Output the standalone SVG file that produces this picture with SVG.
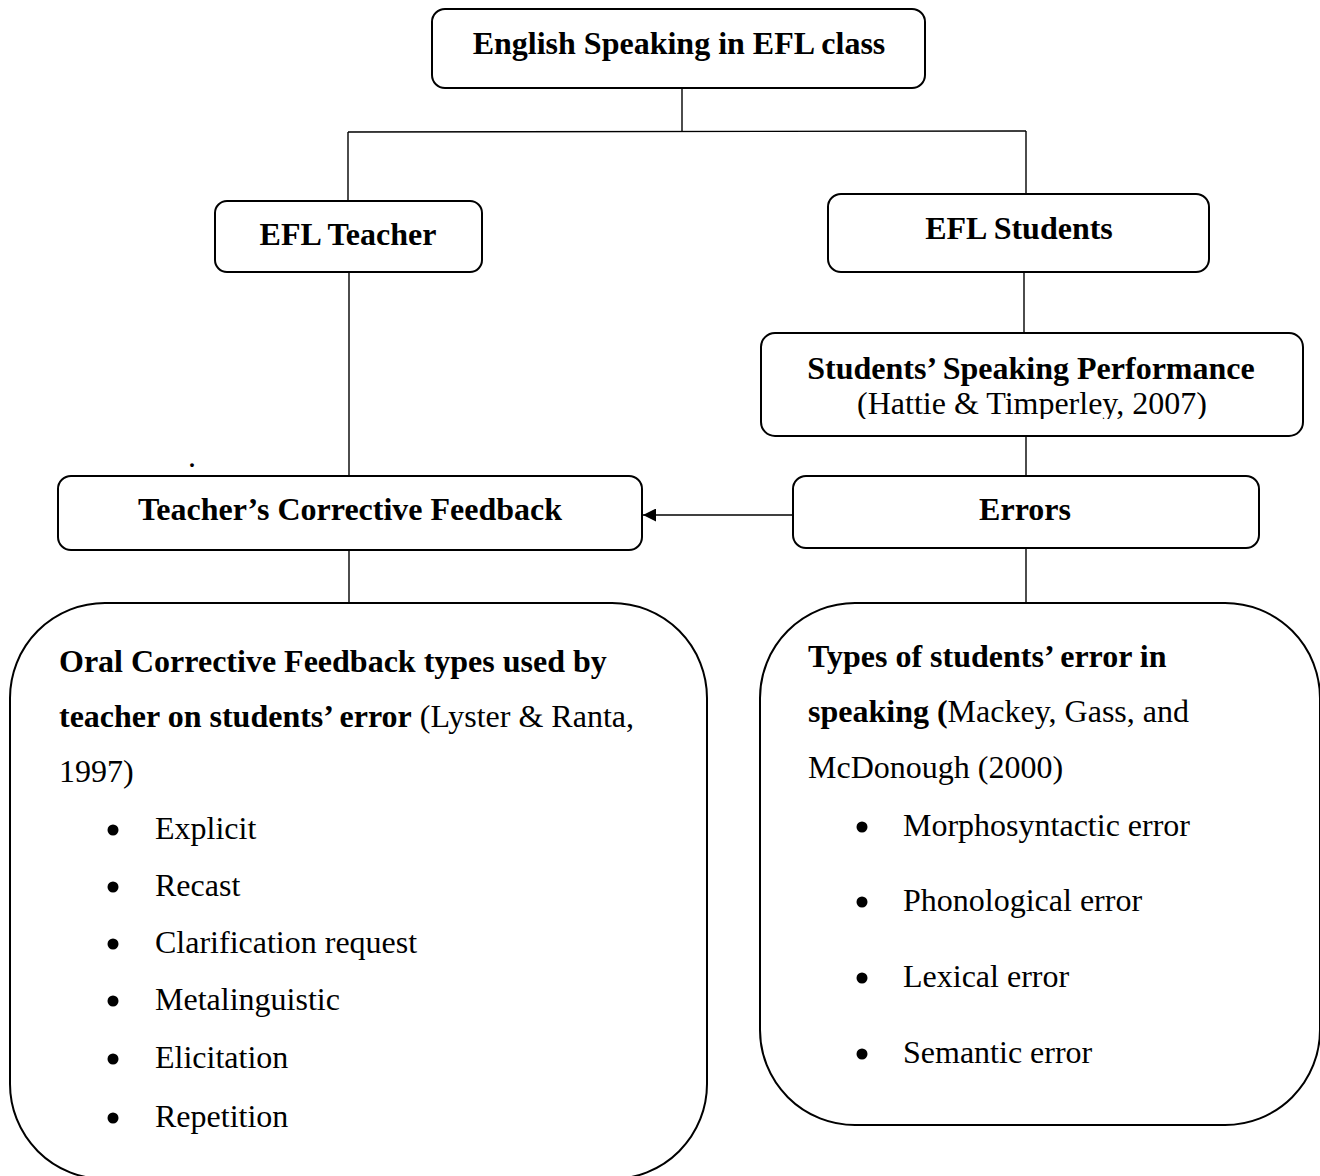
<svg xmlns="http://www.w3.org/2000/svg" width="1320" height="1176" viewBox="0 0 1320 1176">
<style>
.box{fill:#fff;stroke:#000;stroke-width:2}
.big{fill:#fff;stroke:#000;stroke-width:2}
.ln{fill:none;stroke:#000;stroke-width:1.4}
text{font-family:"Liberation Serif","Times New Roman",serif;font-size:32px;fill:#000}
.b{font-weight:bold}
.c{text-anchor:middle}
.dot{fill:#000}
</style>
<defs>
<marker id="ah" viewBox="0 0 12 12" refX="12" refY="6" markerWidth="13" markerHeight="13" markerUnits="userSpaceOnUse" orient="auto">
<path d="M0,0 L12,6 L0,12 Z" fill="#000"/>
</marker>
<clipPath id="clipSSP"><rect x="761" y="333" width="542" height="86"/></clipPath>
</defs>
<rect width="1320" height="1176" fill="#fff"/>

<g id="connectors">
<line class="ln" x1="682" y1="88" x2="682" y2="131"/>
<line class="ln" x1="348" y1="132" x2="1026" y2="131"/>
<line class="ln" x1="348" y1="132" x2="348" y2="201"/>
<line class="ln" x1="1026" y1="131" x2="1026" y2="197"/>
<line class="ln" x1="349" y1="272" x2="349" y2="488"/>
<line class="ln" x1="1024" y1="266" x2="1024" y2="333"/>
<line class="ln" x1="1026" y1="430" x2="1026" y2="476"/>
<line class="ln" x1="349" y1="550" x2="349" y2="603"/>
<line class="ln" x1="1026" y1="548" x2="1026" y2="603"/>
<line class="ln" x1="793" y1="515" x2="643" y2="515" marker-end="url(#ah)"/>
</g>

<g id="node-title">
<rect class="box" x="432" y="9" width="493" height="79" rx="13"/>
<text class="b c" x="679" y="54">English Speaking in EFL class</text>
</g>

<g id="node-teacher">
<rect class="box" x="215" y="201" width="267" height="71" rx="12"/>
<text class="b c" x="348" y="245">EFL Teacher</text>
</g>

<g id="node-students">
<rect class="box" x="828" y="194" width="381" height="78" rx="13"/>
<text class="b c" x="1019" y="239">EFL Students</text>
</g>

<g id="node-performance">
<rect class="box" x="761" y="333" width="542" height="103" rx="14"/>
<g clip-path="url(#clipSSP)">
<text class="b c" x="1031" y="379">Students’ Speaking Performance</text>
<text class="c" x="1032" y="414">(Hattie &amp; Timperley, 2007)</text>
</g>
</g>

<g id="node-feedback">
<rect class="box" x="58" y="476" width="584" height="74" rx="13"/>
<text class="b c" x="350" y="520">Teacher’s Corrective Feedback</text>
</g>

<text x="188" y="467">.</text>

<g id="node-errors">
<rect class="box" x="793" y="476" width="466" height="72" rx="13"/>
<text class="b c" x="1025" y="520">Errors</text>
</g>

<g id="node-oral-cf-types">
<rect class="big" x="10" y="603" width="697" height="576" rx="95"/>
<text x="59" y="672" class="b">Oral Corrective Feedback types used by</text>
<text x="59" y="727"><tspan class="b">teacher on students’ error</tspan> (Lyster &amp; Ranta,</text>
<text x="59" y="782">1997)</text>
<circle class="dot" cx="113" cy="830" r="5.5"/>
<text x="155" y="839">Explicit</text>
<circle class="dot" cx="113" cy="887" r="5.5"/>
<text x="155" y="896">Recast</text>
<circle class="dot" cx="113" cy="944" r="5.5"/>
<text x="155" y="953">Clarification request</text>
<circle class="dot" cx="113" cy="1001" r="5.5"/>
<text x="155" y="1010">Metalinguistic</text>
<circle class="dot" cx="113" cy="1059" r="5.5"/>
<text x="155" y="1068">Elicitation</text>
<circle class="dot" cx="113" cy="1118" r="5.5"/>
<text x="155" y="1127">Repetition</text>
</g>

<g id="node-error-types">
<rect class="big" x="760" y="603" width="560" height="522" rx="95"/>
<text x="808" y="667" class="b">Types of students’ error in</text>
<text x="808" y="722"><tspan class="b">speaking (</tspan>Mackey, Gass, and</text>
<text x="808" y="778">McDonough (2000)</text>
<circle class="dot" cx="862" cy="827" r="5.5"/>
<text x="903" y="836">Morphosyntactic error</text>
<circle class="dot" cx="862" cy="902" r="5.5"/>
<text x="903" y="911">Phonological error</text>
<circle class="dot" cx="862" cy="978" r="5.5"/>
<text x="903" y="987">Lexical error</text>
<circle class="dot" cx="862" cy="1054" r="5.5"/>
<text x="903" y="1063">Semantic error</text>
</g>
</svg>
